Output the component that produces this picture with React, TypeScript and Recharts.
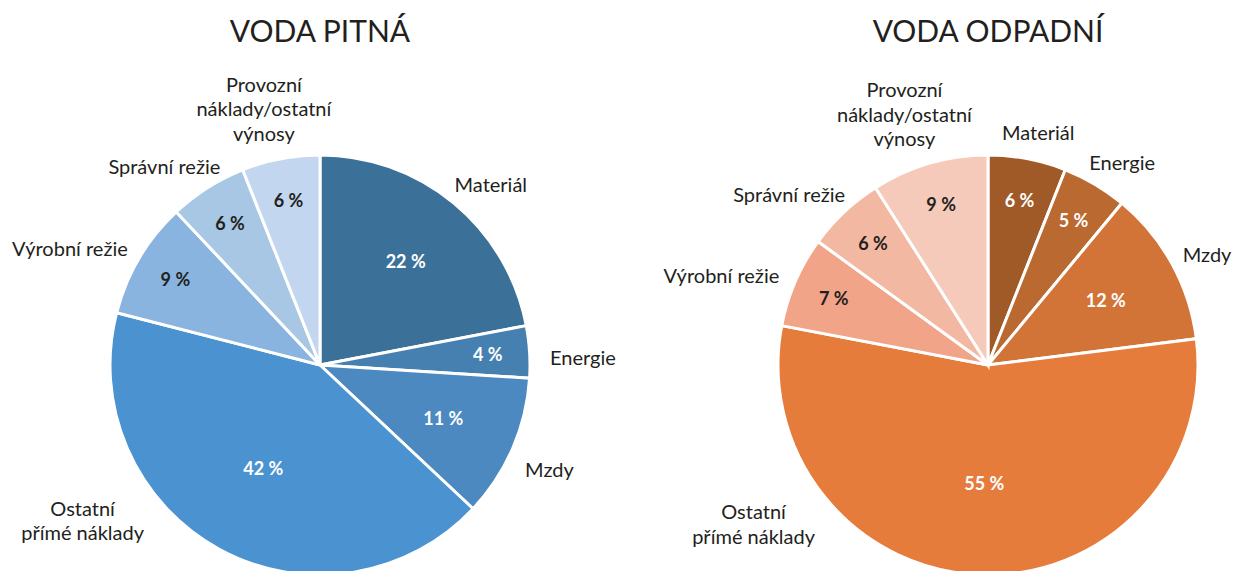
import React from 'react';
import { PieChart, Pie, Cell } from 'recharts';

// category names, split into the lines used for the outside labels
const categories = [
  ['Materiál'],
  ['Energie'],
  ['Mzdy'],
  ['Ostatní', 'přímé náklady'],
  ['Výrobní režie'],
  ['Správní režie'],
  ['Provozní', 'náklady/ostatní', 'výnosy'],
];

// shares in %
const pitnaValues = [22, 4, 11, 42, 9, 6, 6];
const odpadniValues = [6, 5, 12, 55, 7, 6, 9];

const titles = ['VODA PITNÁ', 'VODA ODPADNÍ'];

const blueColors = ['#3b7099', '#4680b1', '#4b89c0', '#4a93d0', '#8ab4e0', '#a7c7e5', '#c2d6ef'];
const orangeColors = ['#a05a28', '#ba6931', '#d27337', '#e67c3b', '#f1a487', '#f3b8a2', '#f5cabb'];
const innerTextColors = ['#ffffff', '#ffffff', '#ffffff', '#ffffff', '#231f20', '#231f20', '#231f20'];

const FONT = 'Lato, "DejaVu Sans", sans-serif';
const DARK = '#231f20';
const RAD = Math.PI / 180;

const toRows = (values: number[]) =>
  values.map((v, i) => ({ name: categories[i].join(' '), value: v }));

const renderLabel = (props: any) => {
  const { cx, cy, midAngle, outerRadius, percent, index, value } = props;

  // percentage inside the slice
  const f = percent > 0.3 ? 0.56 : percent > 0.1 ? 0.64 : 0.8;
  const ix = cx + outerRadius * f * Math.cos(-midAngle * RAD);
  const iy = cy + outerRadius * f * Math.sin(-midAngle * RAD);

  // category name outside the slice
  const lines = categories[index];
  const lh = 24.5;
  const w = Math.max(...lines.map((l) => l.length)) * 9;
  const h = lines.length * lh;
  let a = midAngle;
  const place = (ang: number) => {
    const c = Math.cos(ang * RAD);
    const s = Math.sin(ang * RAD);
    const px = cx + (outerRadius + 22) * c;
    const py = cy - (outerRadius + 22) * s;
    return { x: px + (c * w) / 2, y: py - (s * h) / 2 + 7 };
  };
  let pos = place(a);
  let guard = 0;
  while (pos.y + h / 2 > 549 && guard < 90) {
    a += Math.cos(a * RAD) <= 0 ? -2 : 2;
    pos = place(a);
    guard++;
  }
  const firstY = pos.y - ((lines.length - 1) * lh) / 2;

  return (
    <g>
      <text
        x={ix}
        y={iy}
        textAnchor="middle"
        dominantBaseline="central"
        fill={innerTextColors[index]}
        fontFamily={FONT}
        fontWeight={700}
        fontSize={18}
      >
        {`${value} %`}
      </text>
      <text
        x={pos.x}
        y={firstY}
        textAnchor="middle"
        dominantBaseline="central"
        fill={DARK}
        fontFamily={FONT}
        fontSize={20}
      >
        {lines.map((l, i) => (
          <tspan key={i} x={pos.x} dy={i === 0 ? 0 : lh}>
            {l}
          </tspan>
        ))}
      </text>
    </g>
  );
};

const App = () => {
  const pies = [
    { data: toRows(pitnaValues), colors: blueColors, cx: 320 },
    { data: toRows(odpadniValues), colors: orangeColors, cx: 988 },
  ];

  return (
    <div
      style={{
        position: 'absolute',
        left: 0,
        top: 0,
        width: 1235,
        height: 571,
        overflow: 'hidden',
        background: '#fff',
      }}
    >
      {titles.map((t, i) => (
        <div
          key={t}
          style={{
            position: 'absolute',
            left: pies[i].cx - 200,
            top: 11,
            width: 400,
            textAlign: 'center',
            fontFamily: FONT,
            fontSize: 30,
            lineHeight: '38px',
            color: DARK,
          }}
        >
          {t}
        </div>
      ))}
      <PieChart width={1235} height={571} margin={{ top: 0, right: 0, bottom: 0, left: 0 }}>
        {pies.map((p, k) => (
          <Pie
            key={k}
            data={p.data}
            dataKey="value"
            nameKey="name"
            cx={p.cx}
            cy={365}
            outerRadius={210}
            startAngle={90}
            endAngle={-270}
            stroke="#ffffff"
            strokeWidth={3}
            label={renderLabel}
            labelLine={false}
            isAnimationActive={false}
          >
            {p.data.map((_, i) => (
              <Cell key={i} fill={p.colors[i]} />
            ))}
          </Pie>
        ))}
      </PieChart>
    </div>
  );
};

export default App;
